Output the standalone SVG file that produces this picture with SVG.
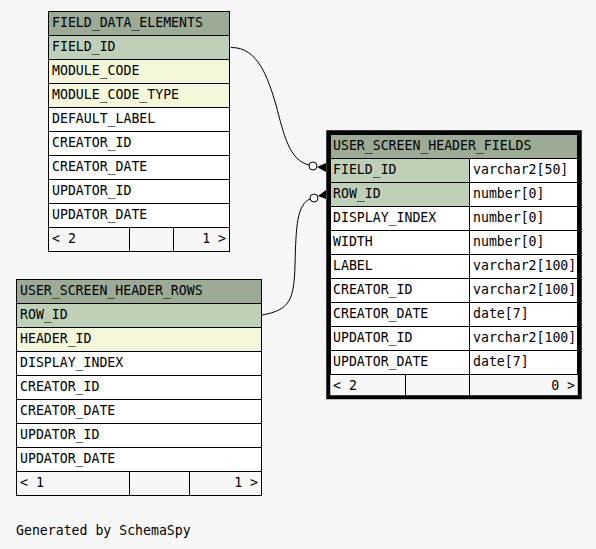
<svg xmlns="http://www.w3.org/2000/svg" width="596" height="549" viewBox="0 0 596 549">
<style>
text{font-family:"DejaVu Sans Mono","Liberation Mono",monospace;font-size:13.2px;fill:#000}
.c{stroke:#000;stroke-width:1}
.h{fill:#9bab96}
.k{fill:#bed1b8}
.i{fill:#f4f7da}
.w{fill:#fff}
.e{text-anchor:end}
.conn path{fill:none;stroke:#000;stroke-width:1}
</style>
<rect width="596" height="549" fill="#f7f7f7"/>
<g id="FIELD_DATA_ELEMENTS">
<rect class="c h" x="48.5" y="11.5" width="181" height="24"/>
<rect class="c k" x="48.5" y="35.5" width="181" height="24"/>
<rect class="c i" x="48.5" y="59.5" width="181" height="24"/>
<rect class="c i" x="48.5" y="83.5" width="181" height="24"/>
<rect class="c w" x="48.5" y="107.5" width="181" height="24"/>
<rect class="c w" x="48.5" y="131.5" width="181" height="24"/>
<rect class="c w" x="48.5" y="155.5" width="181" height="24"/>
<rect class="c w" x="48.5" y="179.5" width="181" height="24"/>
<rect class="c w" x="48.5" y="203.5" width="181" height="24"/>
<rect class="c" fill="none" x="48.5" y="227.5" width="181" height="24"/>
<path class="c" d="M129.5,227.5V251.5M173.5,227.5V251.5"/>
<text x="52" y="27">FIELD_DATA_ELEMENTS</text>
<text x="52" y="51">FIELD_ID</text>
<text x="52" y="75">MODULE_CODE</text>
<text x="52" y="99">MODULE_CODE_TYPE</text>
<text x="52" y="123">DEFAULT_LABEL</text>
<text x="52" y="147">CREATOR_ID</text>
<text x="52" y="171">CREATOR_DATE</text>
<text x="52" y="195">UPDATOR_ID</text>
<text x="52" y="219">UPDATOR_DATE</text>
<text x="52" y="243">&lt; 2</text>
<text class="e" x="226" y="243">1 &gt;</text>
</g>
<g id="USER_SCREEN_HEADER_ROWS">
<rect class="c h" x="16.5" y="279.5" width="245" height="24"/>
<rect class="c k" x="16.5" y="303.5" width="245" height="24"/>
<rect class="c i" x="16.5" y="327.5" width="245" height="24"/>
<rect class="c w" x="16.5" y="351.5" width="245" height="24"/>
<rect class="c w" x="16.5" y="375.5" width="245" height="24"/>
<rect class="c w" x="16.5" y="399.5" width="245" height="24"/>
<rect class="c w" x="16.5" y="423.5" width="245" height="24"/>
<rect class="c w" x="16.5" y="447.5" width="245" height="24"/>
<rect class="c" fill="none" x="16.5" y="471.5" width="245" height="24"/>
<path class="c" d="M129.5,471.5V495.5M189.5,471.5V495.5"/>
<text x="20" y="295">USER_SCREEN_HEADER_ROWS</text>
<text x="20" y="319">ROW_ID</text>
<text x="20" y="343">HEADER_ID</text>
<text x="20" y="367">DISPLAY_INDEX</text>
<text x="20" y="391">CREATOR_ID</text>
<text x="20" y="415">CREATOR_DATE</text>
<text x="20" y="439">UPDATOR_ID</text>
<text x="20" y="463">UPDATOR_DATE</text>
<text x="20" y="487">&lt; 1</text>
<text class="e" x="258" y="487">1 &gt;</text>
</g>
<g id="USER_SCREEN_HEADER_FIELDS">
<rect class="c h" x="330.5" y="134.5" width="247" height="24"/>
<rect class="c k" x="330.5" y="158.5" width="139" height="24"/>
<rect class="c w" x="469.5" y="158.5" width="108" height="24"/>
<rect class="c k" x="330.5" y="182.5" width="139" height="24"/>
<rect class="c w" x="469.5" y="182.5" width="108" height="24"/>
<rect class="c w" x="330.5" y="206.5" width="139" height="24"/>
<rect class="c w" x="469.5" y="206.5" width="108" height="24"/>
<rect class="c w" x="330.5" y="230.5" width="139" height="24"/>
<rect class="c w" x="469.5" y="230.5" width="108" height="24"/>
<rect class="c w" x="330.5" y="254.5" width="139" height="24"/>
<rect class="c w" x="469.5" y="254.5" width="108" height="24"/>
<rect class="c w" x="330.5" y="278.5" width="139" height="24"/>
<rect class="c w" x="469.5" y="278.5" width="108" height="24"/>
<rect class="c w" x="330.5" y="302.5" width="139" height="24"/>
<rect class="c w" x="469.5" y="302.5" width="108" height="24"/>
<rect class="c w" x="330.5" y="326.5" width="139" height="24"/>
<rect class="c w" x="469.5" y="326.5" width="108" height="24"/>
<rect class="c w" x="330.5" y="350.5" width="139" height="24"/>
<rect class="c w" x="469.5" y="350.5" width="108" height="24"/>
<path class="c" d="M405.5,374.5V397M469.5,374.5V397"/>
<rect x="328.25" y="132.25" width="251.5" height="265" fill="none" stroke="#000" stroke-width="4"/>
<text x="333" y="150">USER_SCREEN_HEADER_FIELDS</text>
<text x="333" y="174">FIELD_ID</text>
<text x="473" y="174">varchar2[50]</text>
<text x="333" y="198">ROW_ID</text>
<text x="473" y="198">number[0]</text>
<text x="333" y="222">DISPLAY_INDEX</text>
<text x="473" y="222">number[0]</text>
<text x="333" y="246">WIDTH</text>
<text x="473" y="246">number[0]</text>
<text x="333" y="270">LABEL</text>
<text x="473" y="270">varchar2[100]</text>
<text x="333" y="294">CREATOR_ID</text>
<text x="473" y="294">varchar2[100]</text>
<text x="333" y="318">CREATOR_DATE</text>
<text x="473" y="318">date[7]</text>
<text x="333" y="342">UPDATOR_ID</text>
<text x="473" y="342">varchar2[100]</text>
<text x="333" y="366">UPDATOR_DATE</text>
<text x="473" y="366">date[7]</text>
<text x="333" y="390">&lt; 2</text>
<text class="e" x="575" y="390">0 &gt;</text>
</g>
<g id="connectors" class="conn">
<path d="M231,47.5 C258,47 268,78 276,105 C284,135 289,160 309,165"/>
<circle cx="313" cy="166" r="4" fill="#fff" stroke="#000"/>
<polygon points="317,167 326,163 326,172" fill="#000"/>
<path d="M262,315 C290,310 294,300 295,265 C296,225 297,205 310,199"/>
<circle cx="314" cy="198" r="4" fill="#fff" stroke="#000"/>
<polygon points="318,196 326,190 326,199" fill="#000"/>
</g>
<text x="16" y="535">Generated by SchemaSpy</text>
</svg>
